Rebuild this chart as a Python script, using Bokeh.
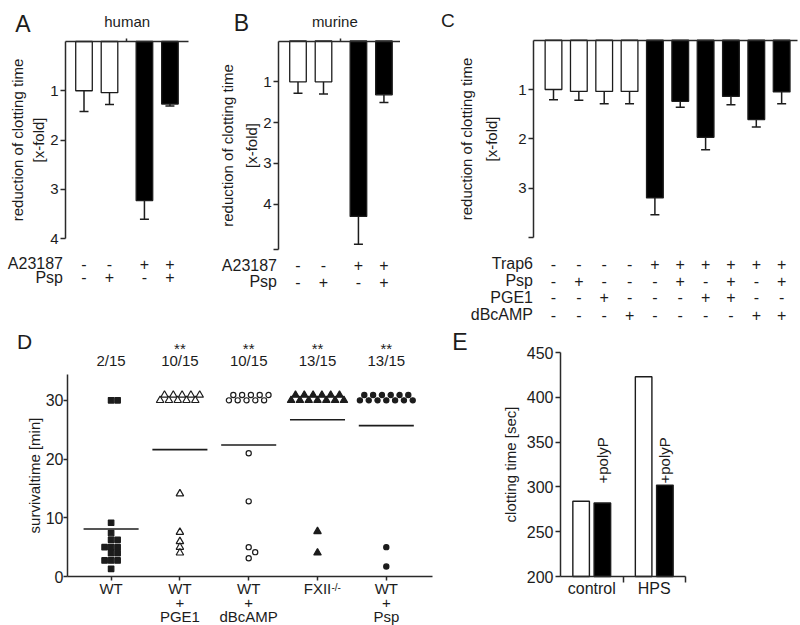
import math
from bokeh.plotting import figure
from bokeh.layouts import row, column
from bokeh.models import (Range1d, FixedTicker, Label, ColumnDataSource, LinearAxis,
                          Whisker, TeeHead, CustomJSTickFormatter)
from bokeh.embed import file_html
from bokeh.resources import INLINE

FONT = "Liberation Sans"
INK = "#1c1c1c"
AXIS = "#2a2a2a"

# ---------------- data ----------------
# Panel A (human)
a_title = "human"
a_rows = ["A23187", "Psp"]
a_signs = [["-", "-", "+", "+"], ["-", "+", "-", "+"]]
a_mean = [1.00, 1.04, 3.23, 1.27]
a_sd = [0.42, 0.24, 0.38, 0.04]
a_fill = ["white", "white", "black", "black"]

# Panel B (murine)
b_title = "murine"
b_rows = ["A23187", "Psp"]
b_signs = [["-", "-", "+", "+"], ["-", "+", "-", "+"]]
b_mean = [1.00, 1.00, 4.30, 1.32]
b_sd = [0.28, 0.30, 0.68, 0.19]
b_fill = ["white", "white", "black", "black"]

# Panel C
c_rows = ["Trap6", "Psp", "PGE1", "dBcAMP"]
c_signs = [
    ["-", "-", "-", "-", "+", "+", "+", "+", "+", "+"],
    ["-", "+", "-", "-", "-", "+", "-", "+", "-", "+"],
    ["-", "-", "+", "-", "-", "-", "+", "+", "-", "-"],
    ["-", "-", "-", "+", "-", "-", "-", "-", "+", "+"],
]
c_mean = [1.00, 1.04, 1.04, 1.04, 3.20, 1.24, 1.97, 1.14, 1.61, 1.05]
c_sd = [0.21, 0.18, 0.25, 0.25, 0.34, 0.12, 0.25, 0.17, 0.15, 0.24]
c_fill = ["white", "white", "white", "white", "black",
          "black", "black", "black", "black", "black"]

ylab_fold = "reduction of clotting time\n[x-fold]"

# Panel D (survival)
d_groups = ["WT", "WT\n+\nPGE1", "WT\n+\ndBcAMP", "FXII", "WT\n+\nPsp"]
d_markers = ["square", "triangle", "circle", "triangle", "circle"]
d_filled = [True, False, False, True, True]
d_wt = [30, 30, 9.15, 7.4, 6.25, 6.25, 5.0, 5.0, 5.0, 3.97, 3.97, 2.73, 2.73, 2.73, 1.31]
d_pge1 = [30, 30, 30, 30, 30, 30, 30, 30, 30, 30, 14.1, 7.55, 5.97, 5.0, 4.03]
d_dbcamp = [30, 30, 30, 30, 30, 30, 30, 30, 30, 30, 21.0, 12.8, 5.0, 4.15, 3.1]
d_fxii = [30, 30, 30, 30, 30, 30, 30, 30, 30, 30, 30, 30, 30, 7.67, 4.03]
d_psp = [30, 30, 30, 30, 30, 30, 30, 30, 30, 30, 30, 30, 30, 5.0, 1.7]
d_values = [d_wt, d_pge1, d_dbcamp, d_fxii, d_psp]
d_meanline = [8.1, 21.6, 22.4, 26.7, 25.7]
d_ratio = ["2/15", "10/15", "10/15", "13/15", "13/15"]
d_signif = ["", "**", "**", "**", "**"]
d_ylabel = "survivaltime [min]"

# Panel E
e_groups = ["control", "HPS"]
e_plain = [284, 423]
e_polyp = [282, 302]
e_ylabel = "clotting time [sec]"


# ---------------- helpers ----------------
def make_fig(x0, y0, w, h, X, Y):
    """Figure whose frame fills the whole box; X/Y map page pixels to data."""
    p = figure(width=w, height=h,
               x_range=Range1d(X(x0), X(x0 + w)), y_range=Range1d(Y(y0 + h), Y(y0)),
               x_axis_location=None, y_axis_location=None,
               toolbar_location=None, tools="", output_backend="svg",
               min_border=0, min_border_left=0, min_border_right=0,
               min_border_top=0, min_border_bottom=0)
    p.outline_line_color = None
    p.xgrid.visible = False
    p.ygrid.visible = False
    p.border_fill_color = "white"
    p.background_fill_color = "white"
    return p


def add_axis(p, side, fixed, bounds, ticks, label=None, size="15px", tick_out=5,
             standoff=2, blank=False, overrides=None):
    ax = LinearAxis(fixed_location=fixed, bounds=bounds, ticker=FixedTicker(ticks=ticks))
    ax.axis_line_color = AXIS
    ax.axis_line_width = 1.5
    ax.major_tick_line_color = AXIS
    ax.major_tick_line_width = 1.5
    ax.minor_tick_line_color = None
    ax.major_tick_in = 0
    ax.major_tick_out = tick_out
    ax.major_label_text_font = FONT
    ax.major_label_text_color = INK
    ax.major_label_text_font_size = size
    ax.major_label_standoff = standoff
    ax.axis_label_text_font = FONT
    ax.axis_label_text_font_style = "normal"
    ax.axis_label_text_color = INK
    ax.axis_label_text_font_size = "15px"
    if label:
        ax.axis_label = label
    if blank:
        ax.formatter = CustomJSTickFormatter(code="return ''")
    if overrides:
        ax.major_label_overrides = overrides
    p.add_layout(ax, side)
    return ax


def txt(p, x, Y, bl, s, size=15, align="center", x_offset=0):
    """Label whose alphabetic baseline sits at page pixel row `bl`."""
    p.add_layout(Label(x=x, y=Y(bl - 0.35 * size), text=s, text_font=FONT,
                       text_font_size=f"{size}px", text_color=INK, text_align=align,
                       text_baseline="middle", x_offset=x_offset))


def draw_bars(p, pos, means, sds, fills, width):
    src = ColumnDataSource(dict(x=pos, top=means, lo=means,
                                hi=[m + s for m, s in zip(means, sds)], fill=fills))
    p.vbar(x="x", top="top", bottom=0, width=width, fill_color="fill",
           line_color=INK, line_width=1.3, source=src)
    p.add_layout(Whisker(source=src, base="x", lower="lo", upper="hi", dimension="height",
                         line_color=INK, line_width=1.5, lower_head=None,
                         upper_head=TeeHead(size=9, line_color=INK, line_width=1.5)))


def sign_rows(p, pos, Y, names, signs, baselines, name_x):
    for name, sg, bl in zip(names, signs, baselines):
        txt(p, name_x, Y, bl, name, size=16, align="right")
        for x, s in zip(pos, sg):
            txt(p, x, Y, bl, s, size=16)


def grouped_pos(n, split, gap):
    return [i + (gap if i >= split else 0.0) for i in range(n)]


TOP_H = 326
BOT_H = 625 - TOP_H


# ---------------- Panel A ----------------
def XA(px): return (px - 83.5) / 25.5
def YA(py): return (py - 41) / 49.25


a_pos = grouped_pos(len(a_mean), 2, 0.37)
pA = make_fig(0, 0, 213, TOP_H, XA, YA)
draw_bars(pA, a_pos, a_mean, a_sd, a_fill, 0.65)
ax = add_axis(pA, "left", XA(65), (0, 4), [1, 2, 3, 4], label=ylab_fold)
ax.axis_label_standoff = 0
ax.axis_label_text_line_height = 1.25
add_axis(pA, "above", 0, (XA(65), XA(188)), [(a_pos[1] + a_pos[2]) / 2],
         tick_out=3, blank=True)
txt(pA, XA(126.7), YA, 26.7, a_title)
txt(pA, XA(22.5), YA, 31.7, "A", size=23)
sign_rows(pA, a_pos, YA, a_rows, a_signs, [269, 282.5], XA(62.5))


# ---------------- Panel B ----------------
def XB(px): return (px - 297.5) / 25.5
def YB(py): return (py - 40.5) / 40.8


b_pos = grouped_pos(len(b_mean), 2, 0.37)
pB = make_fig(213, 0, 187, TOP_H, XB, YB)
draw_bars(pB, b_pos, b_mean, b_sd, b_fill, 0.65)
ax = add_axis(pB, "left", XB(278), (0, 5.1), [1, 2, 3, 4, 5.1], label=ylab_fold,
              overrides={5.1: ""})
ax.axis_label_standoff = 0
ax.axis_label_text_line_height = 1.45
add_axis(pB, "above", 0, (XB(278), XB(400)), [(b_pos[1] + b_pos[2]) / 2],
         tick_out=3, blank=True)
txt(pB, XB(334.3), YB, 26, b_title)
txt(pB, XB(241), YB, 31, "B", size=23)
sign_rows(pB, b_pos, YB, b_rows, b_signs, [270.5, 287], XB(276.5))


# ---------------- Panel C ----------------
def XC(px): return (px - 553) / 25.35
def YC(py): return (py - 39.7) / 49.3


c_pos = list(range(len(c_mean)))
pC = make_fig(400, 0, 400, TOP_H, XC, YC)
draw_bars(pC, c_pos, c_mean, c_sd, c_fill, 0.66)
ax = add_axis(pC, "left", XC(533), (0, 4), [1, 2, 3, 4], label=ylab_fold,
              overrides={4: ""})
ax.axis_label_standoff = 15
ax.axis_label_text_line_height = 1.5
add_axis(pC, "above", 0, (XC(533), XC(797)), [], blank=True)
txt(pC, XC(447.3), YC, 26.7, "C", size=19)
sign_rows(pC, c_pos, YC, c_rows, c_signs, [269, 286, 302.5, 320], XC(532.5))


# ---------------- Panel D ----------------
D_UNIT = 68.8
D_UY = 5.872
def XD(px): return (px - 110.6) / D_UNIT
def YD(py): return (576 - py) / D_UY


pD = make_fig(0, TOP_H, 440, BOT_H, XD, YD)


def swarm(vals, cx):
    xs, ys = [], []
    top = max(vals)
    n_top = sum(1 for v in vals if v == top)
    if n_top > 3:
        for k in range(n_top):
            xs.append(cx + (k - (n_top - 1) / 2) * 4.4 / D_UNIT)
            ys.append(top + (0.9 if k % 2 else 0.0))
        rest = [v for v in vals if v != top]
    else:
        rest = list(vals)
    placed = []
    for v in sorted(rest, reverse=True):
        dx = 0.0
        for j in [0, 1, -1, 2, -2, 3, -3]:
            dx = j * 6.5
            if all((dx - qx) ** 2 + ((v - qv) * D_UY) ** 2 >= 5.5 ** 2 for qx, qv in placed):
                break
        placed.append((dx, v))
        xs.append(cx + dx / D_UNIT)
        ys.append(v)
    return xs, ys


msize = {"square": 5.5, "triangle": 7.5, "circle": 5.2}
for i, (vals, mk, filled) in enumerate(zip(d_values, d_markers, d_filled)):
    xs, ys = swarm(vals, i)
    pD.scatter(xs, ys, marker=mk, size=msize[mk],
               fill_color=INK if filled else "white", line_color=INK, line_width=1.2)
    pD.segment(x0=i - 0.4, x1=i + 0.4, y0=d_meanline[i], y1=d_meanline[i],
               line_color=INK, line_width=1.6)
    txt(pD, i, YD, 365.5, d_ratio[i])
    if d_signif[i]:
        txt(pD, i, YD, 353, d_signif[i])
add_axis(pD, "left", XD(67), (0, YD(374)), [0, 10, 20, 30], label=d_ylabel,
         size="16px", tick_out=4, standoff=0).axis_label_standoff = 0
ax = add_axis(pD, "below", 0, (XD(67), XD(432)), list(range(len(d_groups))),
              tick_out=4, standoff=-1,
              overrides={i: g for i, g in enumerate(d_groups)})
ax.major_label_text_line_height = 0.83
txt(pD, 3, YD, 590, "-/-", size=10, align="left", x_offset=14)
txt(pD, XD(24), YD, 348, "D", size=21)


# ---------------- Panel E ----------------
def XE(px): return (px - 560) / 62.5
def YE(py): return 200 + (576 - py) / 0.896


pE = make_fig(440, TOP_H, 360, BOT_H, XE, YE)
e_centers = [i + 0.5 for i in range(len(e_groups))]
off = 0.17
pE.vbar(x=[c - off for c in e_centers], top=e_plain, bottom=200, width=0.265,
        fill_color="white", line_color=INK, line_width=1.4)
pE.vbar(x=[c + off for c in e_centers], top=e_polyp, bottom=200, width=0.265,
        fill_color="black", line_color=INK, line_width=1.4)
for c in e_centers:
    pE.add_layout(Label(x=c + off, y=YE(483), text="+polyP", text_font=FONT,
                        text_font_size="15px", text_color=INK, text_align="left",
                        text_baseline="middle", angle=math.pi / 2))
add_axis(pE, "left", 0, (200, 450), [200, 250, 300, 350, 400, 450], label=e_ylabel,
         size="16px").axis_label_standoff = 5
ax = add_axis(pE, "below", 200, (0, 2), e_centers, size="16px", tick_out=0, standoff=-3,
              overrides={c: g for c, g in zip(e_centers, e_groups)})
ax.ticker = FixedTicker(ticks=e_centers, minor_ticks=[1, 2])
ax.minor_tick_line_color = AXIS
ax.minor_tick_line_width = 1.5
ax.minor_tick_out = 6
ax.minor_tick_in = 0
txt(pE, XE(459.5), YE, 350, "E", size=23)

layout = column(row(pA, pB, pC), row(pD, pE))
open("out.html", "w").write(file_html(layout, INLINE))
